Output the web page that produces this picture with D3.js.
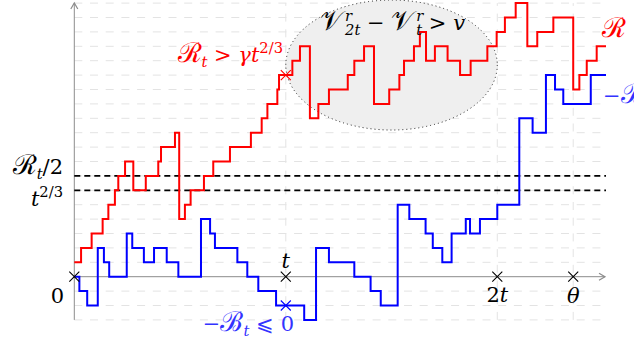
<!DOCTYPE html>
<html>
<head>
<script src="https://d3js.org/d3.v7.min.js"></script>
<style>
    body { margin: 0; padding: 0; background: #fff; }
</style>
</head>
<body>
<div class="viz"></div>
<script>
// step times (t = 100) and levels of the red walk R
var redTimes = [0, 3.2, 8.2, 13.4, 16.1, 19.2, 20.8, 24.0, 27.9, 33.8, 39.7, 41.0, 47.6, 49.6, 52.3, 55.0, 61.3, 65.7, 73.6, 83.5,
    88.6, 91.3, 96.0, 96.8, 103.1, 106.7, 111.4, 115.4, 120.4, 129.3, 132.4, 137.0, 141.7, 148.9, 153.7, 155.9, 160.6, 163.4, 166.3, 170.5,
    176.5, 182.4, 187.4, 195.3, 199.7, 203.6, 208.7, 214.2, 218.9, 226.5, 235.9, 238.8, 242.3, 247.0];
var redLevels = [1, 2, 3, 4, 5, 6, 7, 8, 6, 7, 8, 9, 10, 4, 5, 6, 7, 8, 9, 10,
    11, 12, 13, 14, 15, 16, 11, 12, 13, 14, 15, 16, 12, 13, 14, 15, 16, 17, 15, 16,
    15, 14, 15, 16, 17, 18, 19, 16, 17, 18, 13, 14, 15, 16];

// step times and levels of the blue walk -B
var blueTimes = [0, 2.4, 6.1, 11.1, 14.0, 16.5, 24.8, 27.4, 32.9, 37.7, 43.7, 49.2, 59.9, 64.2, 66.5, 77.1, 81.8, 87.0, 95.4, 108.7,
    114.3, 120.4, 132.4, 140.1, 144.9, 152.9, 158.4, 166.1, 169.5, 174.0, 178.4, 185.1, 187.1, 191.8, 200.0, 210.4, 216.7, 223.0, 227.3, 231.2,
    244.2];
var blueLevels = [0, -1, -2, 2, 1, 0, 3, 2, 1, 2, 1, 0, 4, 3, 2, 1, 0, -1, -2, -3,
    2, 1, 0, -1, -2, 5, 4, 3, 2, 1, 3, 4, 3, 4, 5, 11, 10, 14, 13, 12,
    14];

var endTime = 251.4;
var markTimes = [100, 200, 235.9];       // t, 2t, theta
var dashLevels = [7, 6];                 // R_t/2, t^{2/3}
var tLevelRed = 14, tLevelBlue = -2;

var width = 634, height = 341;
var serif = '"DejaVu Serif", serif';

var svg = d3.select(".viz").append("svg")
    .attr("width", width)
    .attr("height", height);

var x = d3.scaleLinear().domain([0, endTime]).range([74.3, 606]);
var y = d3.scaleLinear().domain([-3, 19]).range([319.9, 3.1]);

// grid
svg.append("g").selectAll("line")
    .data(y.ticks(22).filter(function(d){ return d != 0; }))
    .enter().append("line")
    .attr("x1", x(0)).attr("x2", x(endTime))
    .attr("y1", function(d){ return y(d); })
    .attr("y2", function(d){ return y(d); })
    .attr("stroke", "#e3e3e3")
    .attr("stroke-dasharray", "8,7.7");

svg.append("g").selectAll("line")
    .data(markTimes)
    .enter().append("line")
    .attr("x1", function(d){ return x(d); })
    .attr("x2", function(d){ return x(d); })
    .attr("y1", y(-3)).attr("y2", y(19))
    .attr("stroke", "#e3e3e3")
    .attr("stroke-dasharray", "8,7.7");

// ellipse between t and 2t
svg.append("ellipse")
    .attr("cx", (x(markTimes[0]) + x(markTimes[1])) / 2)
    .attr("cy", y(14.7))
    .attr("rx", (x(markTimes[1]) - x(markTimes[0])) / 2)
    .attr("ry", 65)
    .attr("fill", "#efefef")
    .attr("stroke", "#222")
    .attr("stroke-width", 1)
    .attr("stroke-dasharray", "1,3");

// axes
var axisCol = "#8c8c8c";
svg.append("line")
    .attr("x1", x(0)).attr("x2", 605)
    .attr("y1", y(0)).attr("y2", y(0))
    .attr("stroke", axisCol);
svg.append("line")
    .attr("x1", x(0)).attr("x2", x(0))
    .attr("y1", y(-3)).attr("y2", 3)
    .attr("stroke", axisCol);
svg.append("path")
    .attr("d", "M" + 599 + "," + (y(0) - 3.5) + " L605," + y(0) + " L599," + (y(0) + 3.5))
    .attr("fill", "none").attr("stroke", axisCol).attr("stroke-width", 1.2);
svg.append("path")
    .attr("d", "M" + (x(0) - 3.5) + ",9 L" + x(0) + ",3 L" + (x(0) + 3.5) + ",9")
    .attr("fill", "none").attr("stroke", axisCol).attr("stroke-width", 1.2);

// dashed levels
svg.append("g").selectAll("line")
    .data(dashLevels)
    .enter().append("line")
    .attr("x1", x(0)).attr("x2", x(endTime))
    .attr("y1", function(d){ return y(d); })
    .attr("y2", function(d){ return y(d); })
    .attr("stroke", "#000")
    .attr("stroke-width", 1.8)
    .attr("stroke-dasharray", "6,4");

// walks
var line = d3.line()
    .x(function(d){ return x(d[0]); })
    .y(function(d){ return y(d[1]); })
    .curve(d3.curveStepAfter);

function walk(times, levels){
    var pts = times.map(function(t, i){ return [t, levels[i]]; });
    pts.push([endTime, levels[levels.length - 1]]);
    return pts;
}

svg.append("path")
    .attr("d", line(walk(redTimes, redLevels)))
    .attr("fill", "none").attr("stroke", "#ff0000").attr("stroke-width", 2);
svg.append("path")
    .attr("d", line(walk(blueTimes, blueLevels)))
    .attr("fill", "none").attr("stroke", "#0000ff").attr("stroke-width", 2);

// crosses
function cross(cx, cy, col){
    var s = 5;
    svg.append("path")
        .attr("d", "M" + (cx - s) + "," + (cy - s) + " L" + (cx + s) + "," + (cy + s) +
                   " M" + (cx - s) + "," + (cy + s) + " L" + (cx + s) + "," + (cy - s))
        .attr("stroke", col).attr("stroke-width", 1.1).attr("fill", "none");
}
cross(x(0), y(0), "#000");
markTimes.forEach(function(d){ cross(x(d), y(0), "#000"); });
cross(x(markTimes[0]), y(tLevelRed), "#ff0000");
cross(x(markTimes[0]), y(tLevelBlue), "#0000ff");

// math-ish labels: parts are [text, shift, style, dx]
// shift: "sub", "sup", "cal" (script capital, drawn bigger) or ""
function label(px, py, parts, col, anchor, size){
    size = size || 21;
    var t = svg.append("text")
        .attr("x", px).attr("y", py)
        .attr("fill", col)
        .attr("text-anchor", anchor || "start")
        .style("font-family", serif)
        .style("font-style", "italic")
        .style("font-size", size + "px");
    var cur = 0;
    parts.forEach(function(p){
        var shift = p[1] == "sub" ? size * 0.25 : p[1] == "sup" ? -size * 0.42 : 0;
        var fs = p[1] == "sub" || p[1] == "sup" ? size * 0.7 : p[1] == "cal" ? size * 1.3 : size;
        var sp = t.append("tspan")
            .attr("dy", shift - cur)
            .style("font-size", fs + "px")
            .text(p[0]);
        if (p[1] == "cal") sp.style("font-style", "normal");
        if (p[2]) sp.style("font-style", p[2]);
        if (p[3]) sp.attr("dx", p[3]);
        cur = shift;
    });
    return t;
}

label(63, 174, [["ℛ", "cal"], ["t", "sub"], ["/2", "", "normal"]], "#000", "end");
label(63, 206, [["t", ""], ["2/3", "sup", "normal"]], "#000", "end");
label(64, 303, [["0", "", "normal"]], "#000", "end");
label(x(markTimes[0]), 268, [["t", ""]], "#000", "middle");
label(x(markTimes[1]), 302, [["2", "", "normal"], ["t", ""]], "#000", "middle");
label(x(markTimes[2]), 303, [["θ", ""]], "#000", "middle");
label(283, 62, [["ℛ", "cal"], ["t", "sub"], [" > ", "", "normal"], ["γt", ""], ["2/3", "sup", "normal"]], "#ff0000", "end");
label(294, 331, [["−", "", "normal"], ["ℬ", "cal"], ["t", "sub"], [" ⩽ 0", "", "normal"]], "#3333ff", "end");
label(320, 30, [["𝒱", "cal"], ["r", "sup", null, 3], ["2t", "sub", null, -7], [" − ", "", "normal"],
    ["𝒱", "cal"], ["r", "sup", null, 3], ["t", "sub", null, -7], [" > ", "", "normal"], ["v", ""]], "#000", "start");
label(602, 37, [["ℛ", "cal"]], "#ff0000", "start");
label(603, 103, [["−", "", "normal"], ["ℬ", "cal"]], "#3333ff", "start");
</script>
</body>
</html>
